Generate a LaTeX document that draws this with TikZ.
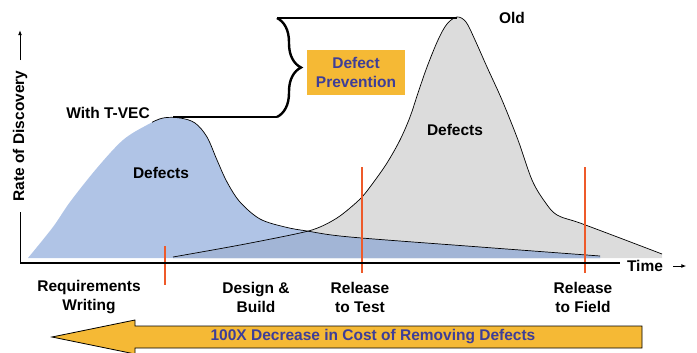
\documentclass[tikz,border=0pt]{standalone}
\usepackage{fontspec}
\setmainfont{Liberation Sans}
\usetikzlibrary{arrows.meta,decorations.pathreplacing}
\definecolor{phaseblue}{RGB}{176,196,230}
\definecolor{overlapblue}{RGB}{162,181,214}
\definecolor{oldgray}{RGB}{220,220,220}
\definecolor{notegold}{RGB}{245,185,53}
\definecolor{notetext}{RGB}{62,62,152}
\definecolor{milered}{RGB}{238,90,42}
\newcommand\tvecpath{plot[smooth,tension=0.55] coordinates {(28,258) (53,227) (70,202) (97,168) (123,140) (147,125) (163,118) (180,118) (195,123) (207,137) (217,160) (227,182) (240,202) (260,219) (285,227) (307,231) (350,237) (480,247) (600,256)}}
\newcommand\oldpath{plot[smooth,tension=0.55] coordinates {(173,257) (240,245) (300,233) (320,227) (337,218) (350,208) (362,197) (373,183) (387,163) (400,140) (410,117) (418,93) (427,67) (438,40) (447,24) (457,17) (466,22) (475,40) (487,67) (502,100) (518,140) (532,180) (545,202) (557,215) (580,223) (620,238) (662,254)}}
\begin{document}
\begin{tikzpicture}[x=1pt,y=-1pt,thick,every node/.style={inner sep=2pt,font=\fontsize{15.5}{19}\selectfont\bfseries},
lbl/.style={align=center},curve/.style={line width=0.7pt},
milestone/.style={milered,line width=2pt},
note/.style={fill=notegold,text=notetext,align=center,minimum width=98pt,minimum height=45pt}]
\useasboundingbox (0,0) rectangle (697,353);
% the two curves
\fill[oldgray]\oldpath--(662,258)--(173,258)--cycle;
\fill[phaseblue]\tvecpath--(600,258)--(28,258)--cycle;
\begin{scope}
\clip\oldpath--(662,258)--(173,258)--cycle;
\fill[overlapblue]\tvecpath--(600,258)--(28,258)--cycle;
\end{scope}
\draw[curve]\oldpath;
\begin{scope}
\clip(152,0)rectangle(697,300);
\draw[curve]\tvecpath;
\end{scope}
% peak levels and brace
\coordinate(low)at(173,117);\coordinate(bl)at(277,117);
\coordinate(tl)at(277,18);\coordinate(top)at(457,18);
\draw[line width=2.4pt](low)--(bl);
\draw[line width=2.4pt](tl)--(top);
\draw[line width=2.4pt,decorate,decoration={brace,amplitude=24pt}](tl)--(bl);
\node[note](prev)at(356,72.5){Defect\\Prevention};
\node(tvec)at(108,113){With T-VEC};
\node(old)at(512,18){Old};
\node(defa)at(161,173){Defects};
\node(defb)at(455,130){Defects};
% milestones
\foreach \x/\a/\b in{165/246/285,362/167/273,585/167/273}
\draw[milestone](\x,\a)--(\x,\b);
% axes
\draw[line width=2.6pt](20,263)--(620,263);
\draw[line width=1pt](20,263)--(20,212);
\node[rotate=90](rate)at(20,136){Rate of Discovery};
\draw[line width=1pt,-{Latex[length=5pt,width=4pt]}]([yshift=8pt]rate.east)--+(0,-30);
\node(time)at(645,266){Time};
\draw[line width=1pt,-{Latex[length=5pt,width=4pt]}]([xshift=8pt]time.east)--+(13,0);
\node[lbl](req)at(89,297){Requirements\\Writing};
\node[lbl](dsg)at(256,297){Design \&\\Build};
\node[lbl](rtest)at(360,297){Release\\to Test};
\node[lbl](rfield)at(583,297){Release\\to Field};
% cost arrow
\draw[fill=notegold,line width=0.8pt](52,337)--(135,320)--(135,326)--(642,326)--(642,348)--(135,348)--(135,354)--cycle;
\node[text=notetext](cost)at(373,337){100X Decrease in Cost of Removing Defects};
\end{tikzpicture}
\end{document}
